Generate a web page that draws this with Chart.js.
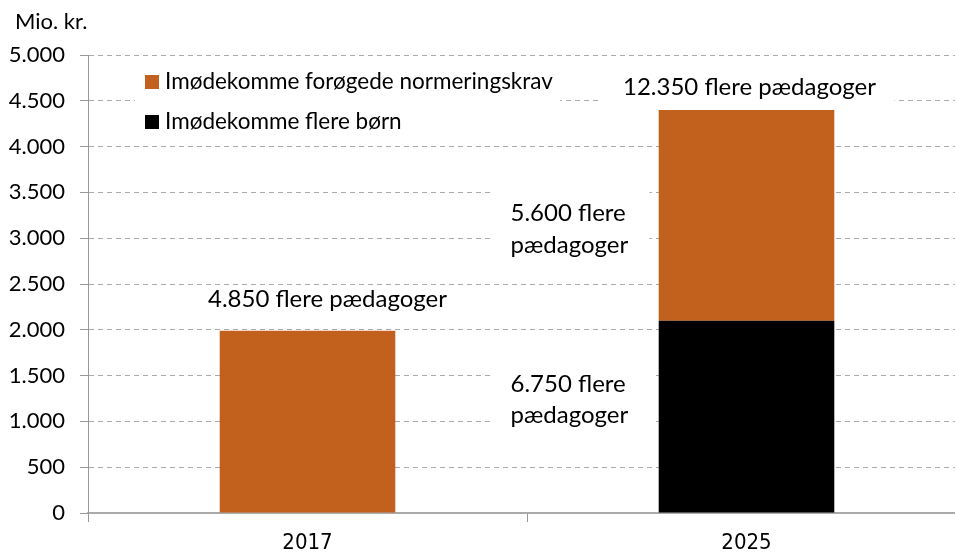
<!DOCTYPE html>
<html>
<head>
<meta charset="utf-8">
<script src="https://cdn.jsdelivr.net/npm/chart.js@4"></script>
<style>
  html, body { margin: 0; padding: 0; background: #fff; overflow: hidden; }
  #wrap { width: 967px; height: 552px; position: relative; }
</style>
</head>
<body>
<div id="wrap"><canvas id="chart"></canvas></div>
<script>
const years = ["2017", "2025"];
const flereBoern = [0, 2100];
const normeringskrav = [1990, 2300];
const seriesNames = ["Imødekomme flere børn", "Imødekomme forøgede normeringskrav"];
const totalLabels = ["4.850 flere pædagoger", "12.350 flere pædagoger"];
const normLabel2025 = ["5.600 flere", "pædagoger"];
const boernLabel2025 = ["6.750 flere", "pædagoger"];
const unitLabel = "Mio. kr.";

const orange = "#C2601D";
const font = "Lato";

function fmt(v) {
  return String(v).replace(/\B(?=(\d{3})+(?!\d))/g, ".");
}

const overlay = {
  id: "overlay",
  beforeDatasetsDraw(chart) {
    const { ctx, chartArea, scales: { x } } = chart;
    const barLeft = x.getPixelForValue(1) - 88;
    ctx.save();
    ctx.fillStyle = "#fff";
    // legend box
    ctx.fillRect(chartArea.left + 47, chartArea.top + 10, 425, 75);
    // total label box for 2025
    ctx.fillRect(x.getPixelForValue(1) - 147, chartArea.top + 17, 295, 30);
    // segment label boxes
    ctx.fillRect(barLeft - 167, 185, 158, 80);
    ctx.fillRect(barLeft - 167, 365, 163, 70);
    ctx.restore();
  },
  afterDatasetsDraw(chart) {
    const { ctx, chartArea, scales: { x, y } } = chart;
    ctx.save();
    ctx.fillStyle = "#000";
    ctx.textBaseline = "middle";
    ctx.font = "22.5px " + font;

    // legend (top item is the upper series)
    const ds = chart.data.datasets;
    const order = [1, 0];
    order.forEach((d, i) => {
      const ly = chartArea.top + 27 + i * 40;
      ctx.fillStyle = ds[d].backgroundColor;
      ctx.fillRect(chartArea.left + 57, ly - 7, 14, 14);
      ctx.fillStyle = "#000";
      ctx.textAlign = "left";
      ctx.fillText(ds[d].label, chartArea.left + 77, ly);
    });

    // totals above bars
    const dx = [20, 3];
    const dy = [31, 23];
    ctx.font = "24px " + font;
    years.forEach((yr, i) => {
      const total = flereBoern[i] + normeringskrav[i];
      ctx.textAlign = "center";
      ctx.fillText(totalLabels[i], x.getPixelForValue(i) + dx[i], y.getPixelForValue(total) - dy[i]);
    });

    // segment labels for 2025
    const barLeft = x.getPixelForValue(1) - 88;
    ctx.textAlign = "left";
    const normMid = y.getPixelForValue(flereBoern[1] + normeringskrav[1] / 2);
    ctx.fillText(normLabel2025[0], barLeft - 148, normMid - 2);
    ctx.fillText(normLabel2025[1], barLeft - 148, normMid + 30);
    const boernMid = y.getPixelForValue(flereBoern[1] / 2);
    ctx.fillText(boernLabel2025[0], barLeft - 148, boernMid - 33);
    ctx.fillText(boernLabel2025[1], barLeft - 148, boernMid - 2);

    // unit label
    ctx.font = "22px " + font;
    ctx.fillText(unitLabel, 15, 22);
    ctx.restore();
  }
};

new Chart(document.getElementById("chart"), {
  type: "bar",
  data: {
    labels: years,
    datasets: [
      { label: seriesNames[0], data: flereBoern, backgroundColor: "#000000" },
      { label: seriesNames[1], data: normeringskrav, backgroundColor: orange }
    ]
  },
  options: {
    responsive: true,
    maintainAspectRatio: false,
    animation: false,
    datasets: { bar: { categoryPercentage: 0.8, barPercentage: 0.5 } },
    layout: { padding: { top: 55, right: 1, left: 0, bottom: 0 } },
    plugins: { legend: { display: false }, tooltip: { enabled: false } },
    scales: {
      x: {
        stacked: true,
        afterFit(scale) { scale.height = 39; },
        grid: { drawOnChartArea: false, drawTicks: true, tickLength: 9, tickColor: "#999", offset: true },
        border: { display: true, color: "#aaa", width: 2 },
        ticks: { color: "#000", font: { family: "DejaVu Sans Condensed", size: 22 }, padding: 8 }
      },
      y: {
        stacked: true,
        min: 0,
        max: 5000,
        afterFit(scale) { scale.width = 88; },
        grid: { color: "#aaa", tickLength: 8, tickColor: "#999", tickBorderDash: [] },
        border: { display: true, color: "#999", width: 1, dash: [5, 4] },
        ticks: { stepSize: 500, color: "#000", font: { family: font, size: 22 }, padding: 15, callback: v => fmt(v) }
      }
    }
  },
  plugins: [overlay]
});
</script>
</body>
</html>
